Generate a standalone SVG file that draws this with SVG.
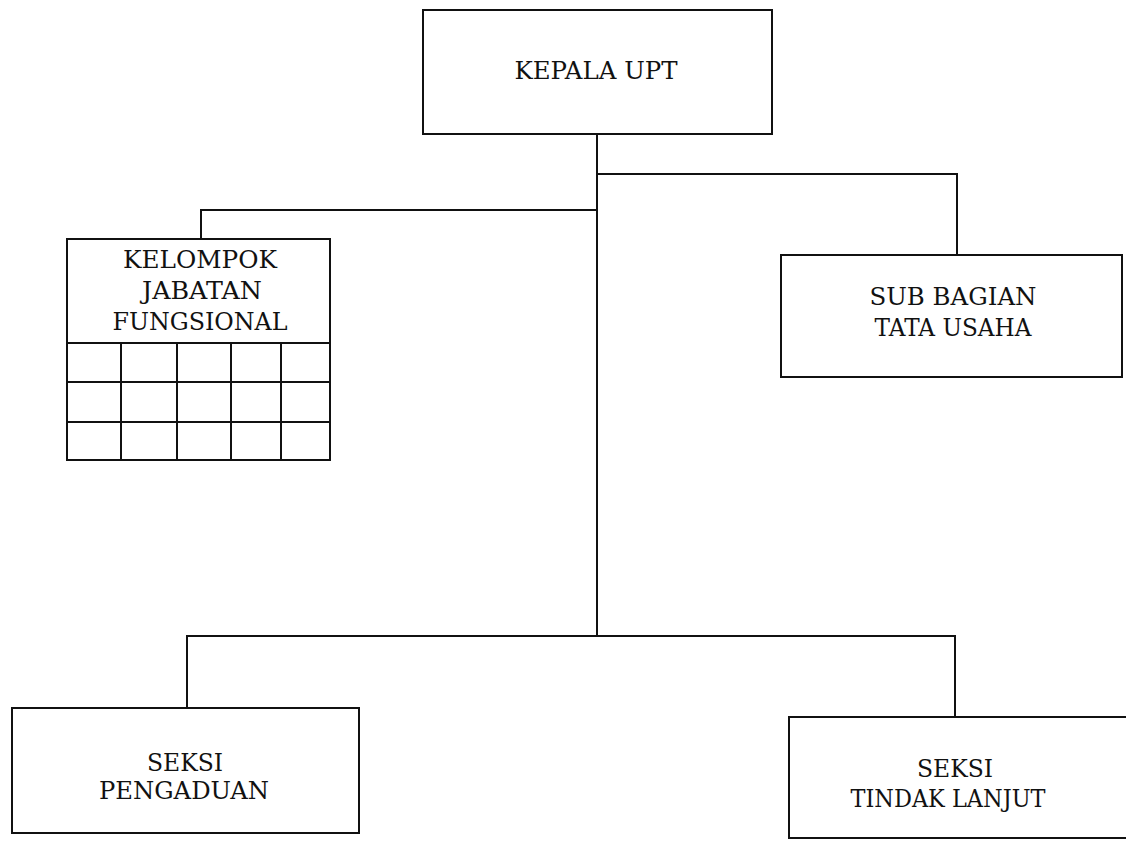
<svg xmlns="http://www.w3.org/2000/svg" width="1126" height="841" viewBox="0 0 1126 841">
<style>
.box{fill:#fff;stroke:#111;stroke-width:2}
.ln{fill:none;stroke:#111;stroke-width:2}
.t{font-family:"DejaVu Serif","Liberation Serif",serif;font-size:24px;fill:#111;text-anchor:middle}
</style>
<rect width="1126" height="841" fill="#fff"/>
<g id="connectors">
<path class="ln" d="M597,134 V636"/>
<path class="ln" d="M597,174 H957 V255"/>
<path class="ln" d="M597,210 H201 V239"/>
<path class="ln" d="M187,708 V636 H955 V717"/>
</g>
<g id="kepala">
<rect class="box" x="423" y="10" width="349" height="124"/>
<text class="t" x="596" y="79" textLength="163" lengthAdjust="spacingAndGlyphs">KEPALA UPT</text>
</g>
<g id="kelompok">
<rect class="box" x="67" y="239" width="263" height="221"/>
<path class="ln" d="M67,343 H330 M67,382 H330 M67,422 H330 M121,343 V460 M177,343 V460 M231,343 V460 M281,343 V460"/>
<text class="t" x="200" y="268" textLength="154" lengthAdjust="spacingAndGlyphs">KELOMPOK</text>
<text class="t" x="202" y="299" textLength="120" lengthAdjust="spacingAndGlyphs">JABATAN</text>
<text class="t" x="200" y="330" textLength="175" lengthAdjust="spacingAndGlyphs">FUNGSIONAL</text>
</g>
<g id="subbagian">
<rect class="box" x="781" y="255" width="341" height="122"/>
<text class="t" x="953" y="305" textLength="167" lengthAdjust="spacingAndGlyphs">SUB BAGIAN</text>
<text class="t" x="953" y="336" textLength="157" lengthAdjust="spacingAndGlyphs">TATA USAHA</text>
</g>
<g id="pengaduan">
<rect class="box" x="12" y="708" width="347" height="125"/>
<text class="t" x="185" y="771" textLength="76" lengthAdjust="spacingAndGlyphs">SEKSI</text>
<text class="t" x="184" y="799" textLength="170" lengthAdjust="spacingAndGlyphs">PENGADUAN</text>
</g>
<g id="tindaklanjut">
<rect class="box" x="789" y="717" width="345" height="121"/>
<text class="t" x="955" y="777" textLength="76" lengthAdjust="spacingAndGlyphs">SEKSI</text>
<text class="t" x="948" y="807" textLength="195" lengthAdjust="spacingAndGlyphs">TINDAK LANJUT</text>
</g>
</svg>
